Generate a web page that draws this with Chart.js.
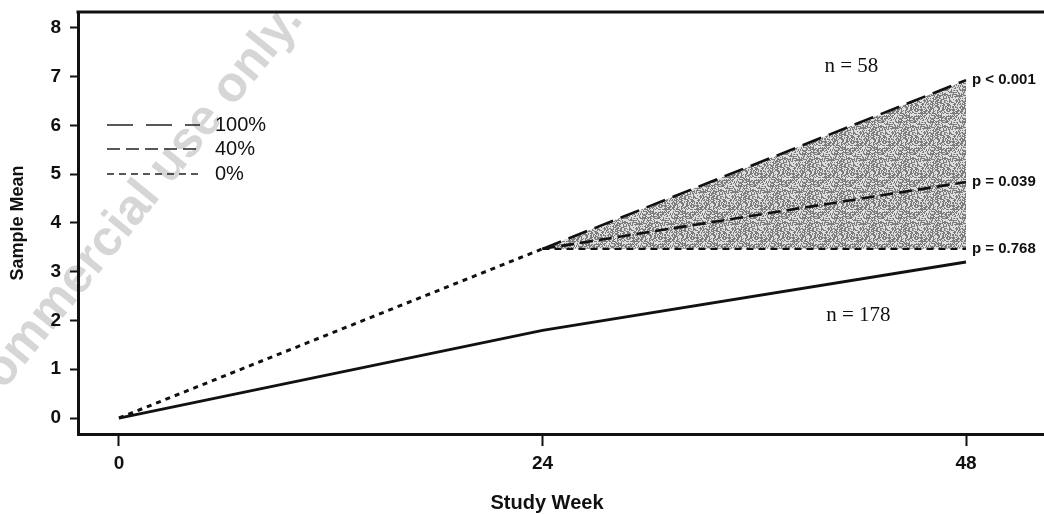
<!DOCTYPE html>
<html>
<head>
<meta charset="utf-8">
<script src="https://cdn.jsdelivr.net/npm/chart.js@4/dist/chart.umd.min.js"></script>
<style>
  html, body { margin: 0; padding: 0; background: #fff; }
  canvas { display: block; }
</style>
</head>
<body>
<canvas id="c" width="1044" height="514"></canvas>
<script>
// ---- data ----
const weeks = [0, 24, 48];
const xTickValues = [0, 24, 48];
const yTickValues = [0, 1, 2, 3, 4, 5, 6, 7, 8];
const controlMean = [0, 1.8, 3.2];     // n = 178, observed through week 48
const sharedMean = [0, 3.47];          // weeks 0-24, common to every scenario
const mean100 = [3.47, 6.93];          // week 24-48, 100% scenario
const mean40 = [3.47, 4.84];           // week 24-48, 40% scenario
const mean0 = [3.47, 3.47];            // week 24-48, 0% scenario
const scenarioLabels = ['100%', '40%', '0%'];
const pValueLabels = ['p < 0.001', 'p = 0.039', 'p = 0.768'];
const groupLabels = ['n = 58', 'n = 178'];

// ---- styling ----
const INK = '#111';
const SANS = "'Liberation Sans', Arial, sans-serif";
const SERIF = "'Liberation Serif', 'Times New Roman', serif";
const dash100 = [20, 8];
const dash40 = [13, 6];
const dash0 = [7, 5];
const dashEarly = [5, 5];
const groupLabelAnchors = [{ x: 41.5, y: 7.22 }, { x: 41.9, y: 2.11 }];

function points(xs, ys) {
  return ys.map((y, i) => ({ x: xs[i], y }));
}

// grey stipple used for the band between the 100% and 0% scenarios
function stipple(ctx) {
  const size = 32;
  const c = document.createElement('canvas');
  c.width = size; c.height = size;
  const g = c.getContext('2d');
  const img = g.createImageData(size, size);
  for (let y = 0; y < size; y++) {
    for (let x = 0; x < size; x++) {
      let h = (x * 374761393 + y * 668265263) | 0;
      h = Math.imul(h ^ (h >>> 13), 1274126177);
      h = (h ^ (h >>> 16)) >>> 0;
      const v = (h % 100) < 50 ? 125 : 222;
      const k = (y * size + x) * 4;
      img.data[k] = v; img.data[k + 1] = v; img.data[k + 2] = v; img.data[k + 3] = 255;
    }
  }
  g.putImageData(img, 0, 0);
  return ctx.createPattern(c, 'repeat');
}

const canvas = document.getElementById('c');
const ctx = canvas.getContext('2d');
const band = stipple(ctx);

const later = weeks.slice(1);

const annotate = {
  id: 'annotate',
  beforeDraw(chart) {
    const c = chart.ctx;
    c.save();
    c.translate(304, 20);
    c.rotate(-51 * Math.PI / 180);
    c.font = 'bold 50px ' + SANS;
    c.fillStyle = '#d6d6d6';
    c.textAlign = 'right';
    c.textBaseline = 'alphabetic';
    c.fillText('commercial use only.', 0, 0);
    c.restore();
  },
  afterDatasetsDraw(chart) {
    const c = chart.ctx;
    const xs = chart.scales.x, ys = chart.scales.y;
    const area = chart.chartArea;
    c.save();

    // frame line along the top
    c.strokeStyle = INK;
    c.lineWidth = 3;
    c.beginPath();
    c.moveTo(area.left - 1.5, area.top);
    c.lineTo(area.right, area.top);
    c.stroke();

    // p-values at the end of each scenario line
    const ends = [mean100[1], mean40[1], mean0[1]];
    c.fillStyle = INK;
    c.font = 'bold 15px ' + SANS;
    c.textAlign = 'left';
    c.textBaseline = 'middle';
    pValueLabels.forEach((t, i) => {
      c.fillText(t, xs.getPixelForValue(weeks[2]) + 6, ys.getPixelForValue(ends[i]));
    });

    // group sizes
    c.font = '21px ' + SERIF;
    c.textAlign = 'center';
    groupLabels.forEach((t, i) => {
      const a = groupLabelAnchors[i];
      c.fillText(t, xs.getPixelForValue(a.x), ys.getPixelForValue(a.y));
    });

    // legend
    const dashes = [[26, 13], dash40, dash0];
    const rowY = [125, 149, 174];
    c.lineWidth = 1.6;
    c.strokeStyle = '#222';
    c.font = '20px ' + SANS;
    c.textAlign = 'left';
    scenarioLabels.forEach((t, i) => {
      c.setLineDash(dashes[i]);
      c.beginPath();
      c.moveTo(area.left + 29, rowY[i]);
      c.lineTo(area.left + 122, rowY[i]);
      c.stroke();
      c.setLineDash([]);
      c.fillText(t, area.left + 137, rowY[i]);
    });

    // x-axis title
    c.font = 'bold 20px ' + SANS;
    c.textAlign = 'center';
    c.fillText('Study Week', 547, 503);
    c.restore();
  }
};

const lineBase = {
  pointRadius: 0,
  borderColor: INK,
  borderWidth: 2.6,
  fill: false,
  tension: 0,
  borderCapStyle: 'butt'
};

new Chart(ctx, {
  type: 'line',
  data: {
    datasets: [
      Object.assign({}, lineBase, {
        label: scenarioLabels[0],
        data: points(later, mean100),
        borderDash: dash100,
        fill: { target: 2 },
        backgroundColor: band
      }),
      Object.assign({}, lineBase, {
        label: scenarioLabels[1],
        data: points(later, mean40),
        borderDash: dash40
      }),
      Object.assign({}, lineBase, {
        label: scenarioLabels[2],
        data: points(later, mean0),
        borderDash: dash0,
        borderWidth: 2.2
      }),
      Object.assign({}, lineBase, {
        label: 'weeks 0-24',
        data: points(weeks.slice(0, 2), sharedMean),
        borderDash: dashEarly,
        borderWidth: 3
      }),
      Object.assign({}, lineBase, {
        label: 'control',
        data: points(weeks, controlMean),
        borderWidth: 2.8
      })
    ]
  },
  options: {
    responsive: false,
    animation: false,
    layout: { padding: { top: 12, right: 0, bottom: 0, left: 0 } },
    plugins: {
      legend: { display: false },
      tooltip: { enabled: false },
      filler: { drawTime: 'beforeDatasetsDraw' }
    },
    scales: {
      x: {
        type: 'linear',
        min: -2.323,
        max: 52.42,
        afterBuildTicks(s) { s.ticks = xTickValues.map(v => ({ value: v })); },
        afterFit(s) { s.height = 80; s.paddingLeft = 0; s.paddingRight = 0; },
        grid: { drawOnChartArea: false, drawTicks: true, tickLength: 12, tickWidth: 2, color: INK },
        border: { display: true, color: INK, width: 3 },
        ticks: { color: INK, font: { family: SANS, size: 19, weight: 'bold' }, padding: 6, maxRotation: 0 }
      },
      y: {
        type: 'linear',
        min: -0.328,
        max: 8.328,
        afterBuildTicks(s) { s.ticks = yTickValues.map(v => ({ value: v })); },
        afterFit(s) { s.width = 78; s.paddingTop = 0; s.paddingBottom = 0; },
        grid: { drawOnChartArea: false, drawTicks: true, tickLength: 8, tickWidth: 2, color: INK },
        border: { display: true, color: INK, width: 3 },
        ticks: { color: INK, font: { family: SANS, size: 19, weight: 'bold' }, padding: 9 },
        title: {
          display: true,
          text: 'Sample Mean',
          color: INK,
          font: { family: SANS, size: 18, weight: 'bold' },
          padding: { top: 7, bottom: 0 }
        }
      }
    }
  },
  plugins: [annotate]
});
</script>
</body>
</html>
